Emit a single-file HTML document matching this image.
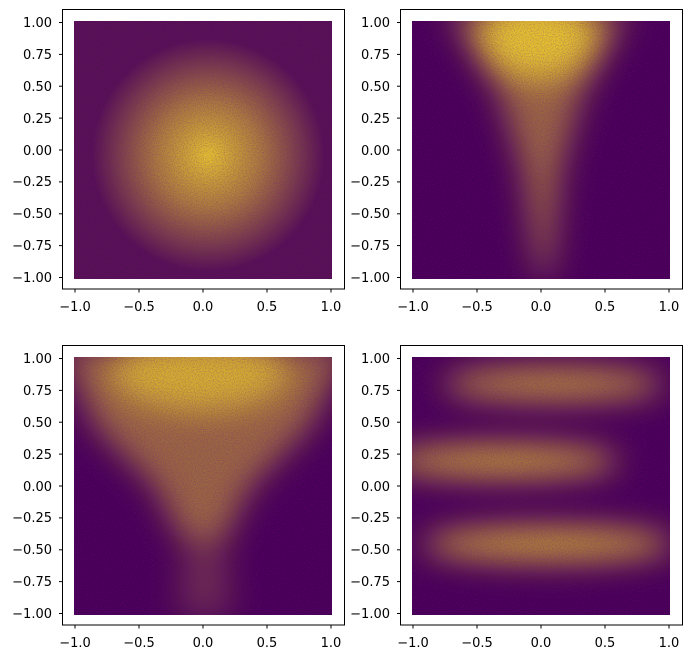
<!DOCTYPE html>
<html><head><style>body{margin:0;background:#fff}svg{display:block}text{font-family:"DejaVu Sans","Liberation Sans",sans-serif;font-size:13px;fill:#000}</style></head>
<body>
<svg width="692" height="659" viewBox="0 0 692 659" xmlns="http://www.w3.org/2000/svg">
<defs>
<filter id="b" x="-50%" y="-50%" width="200%" height="200%"><feGaussianBlur stdDeviation="16"/></filter>
<filter id="n" x="0" y="0" width="100%" height="100%">
<feTurbulence type="fractalNoise" baseFrequency="0.9" numOctaves="1" seed="3"/>
<feColorMatrix type="matrix" values="0 0 0 0 0.27  0 0 0 0 0.0  0 0 0 0 0.33  0 0 0 -2.2 1.35"/>
</filter>
<clipPath id="c"><rect x="74" y="21" width="258" height="258"/></clipPath>
<radialGradient id="g1" cx="0.52" cy="0.52" r="0.45">
<stop offset="0" stop-color="#fde725" stop-opacity="0.85"/>
<stop offset="0.45" stop-color="#fde725" stop-opacity="0.5"/>
<stop offset="1" stop-color="#fde725" stop-opacity="0"/>
</radialGradient>
</defs>

<g id="ax">
<rect x="62.5" y="9.5" width="282" height="279.5" fill="none" stroke="#000" stroke-width="1"/>
<g stroke="#000" stroke-width="1">
<line x1="59" y1="22.5" x2="62.5" y2="22.5"/><line x1="59" y1="54.4" x2="62.5" y2="54.4"/><line x1="59" y1="86.2" x2="62.5" y2="86.2"/><line x1="59" y1="118.1" x2="62.5" y2="118.1"/><line x1="59" y1="150" x2="62.5" y2="150"/><line x1="59" y1="181.9" x2="62.5" y2="181.9"/><line x1="59" y1="213.8" x2="62.5" y2="213.8"/><line x1="59" y1="245.6" x2="62.5" y2="245.6"/><line x1="59" y1="277.5" x2="62.5" y2="277.5"/>
<line x1="75" y1="289" x2="75" y2="292.5"/><line x1="139" y1="289" x2="139" y2="292.5"/><line x1="203" y1="289" x2="203" y2="292.5"/><line x1="267" y1="289" x2="267" y2="292.5"/><line x1="331" y1="289" x2="331" y2="292.5"/>
</g>
<g text-anchor="end">
<text x="52" y="27">1.00</text><text x="52" y="59">0.75</text><text x="52" y="91">0.50</text><text x="52" y="123">0.25</text><text x="52" y="155">0.00</text><text x="52" y="186">−0.25</text><text x="52" y="218">−0.50</text><text x="52" y="250">−0.75</text><text x="52" y="282">−1.00</text>
</g>
<g text-anchor="middle">
<text x="75" y="311">−1.0</text><text x="139" y="311">−0.5</text><text x="203" y="311">0.0</text><text x="267" y="311">0.5</text><text x="331" y="311">1.0</text>
</g>
</g>
<use href="#ax" x="338"/><use href="#ax" y="336"/><use href="#ax" x="338" y="336"/>

<!-- TL -->
<g>
<rect x="74" y="21" width="258" height="258" fill="#440154"/>
<rect x="74" y="21" width="258" height="258" fill="url(#g1)"/>
<rect x="74" y="21" width="258" height="258" fill="#fde725" opacity="0.08"/>
<rect x="74" y="21" width="258" height="258" filter="url(#n)" opacity="0.35"/>
</g>
<!-- TR -->
<g transform="translate(338,0)">
<rect x="74" y="21" width="258" height="258" fill="#440154"/>
<g clip-path="url(#c)" filter="url(#b)">
<polygon points="110,10 290,10 245,90 222,170 212,275 200,275 185,170 160,90" fill="#fde725" opacity="0.45"/>
<ellipse cx="200" cy="35" rx="60" ry="45" fill="#fde725" opacity="0.75"/>
</g>
<rect x="74" y="21" width="258" height="258" filter="url(#n)" opacity="0.35"/>
</g>
<!-- BL -->
<g transform="translate(0,336)">
<rect x="74" y="21" width="258" height="258" fill="#440154"/>
<g clip-path="url(#c)" filter="url(#b)">
<polygon points="60,10 350,10 310,90 250,150 225,200 180,200 155,150 95,90" fill="#fde725" opacity="0.45"/>
<polygon points="185,190 225,190 230,280 180,280" fill="#fde725" opacity="0.2"/>
<ellipse cx="200" cy="35" rx="90" ry="40" fill="#fde725" opacity="0.6"/>
</g>
<rect x="74" y="21" width="258" height="258" filter="url(#n)" opacity="0.35"/>
</g>
<!-- BR -->
<g transform="translate(338,336)">
<rect x="74" y="21" width="258" height="258" fill="#440154"/>
<g clip-path="url(#c)" filter="url(#b)">
<ellipse cx="215" cy="48" rx="110" ry="16" fill="#fde725" opacity="0.65"/>
<ellipse cx="165" cy="125" rx="115" ry="16" fill="#fde725" opacity="0.7"/>
<ellipse cx="210" cy="208" rx="125" ry="17" fill="#fde725" opacity="0.7"/>
</g>
<rect x="74" y="21" width="258" height="258" filter="url(#n)" opacity="0.35"/>
</g>
</svg>
</body></html>
